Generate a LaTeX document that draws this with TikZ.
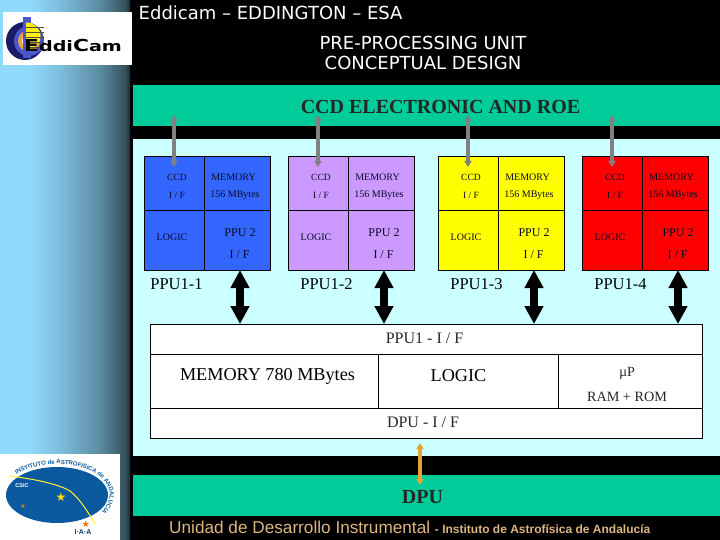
\documentclass[tikz,border=0pt]{standalone}
\usepackage{fontspec}
\setmainfont{Liberation Serif}
\newfontfamily\djv{DejaVu Sans}
\newfontfamily\arl{Liberation Sans}
\usetikzlibrary{arrows.meta,decorations.text}
\definecolor{sa}{HTML}{90D9FB}
\definecolor{sb}{HTML}{7DBEDC}
\definecolor{sc}{HTML}{5B8BA1}
\definecolor{sd}{HTML}{37525F}
\definecolor{se}{HTML}{1E2D35}
\definecolor{bandgreen}{HTML}{00CC99}
\definecolor{panelcyan}{HTML}{CCFFFF}
\definecolor{ppublue}{HTML}{3366FF}
\definecolor{ppupurple}{HTML}{CC99FF}
\definecolor{ppuyellow}{HTML}{FFFF00}
\definecolor{ppured}{HTML}{FF0000}
\definecolor{arrowgray}{HTML}{808080}
\definecolor{arroworange}{HTML}{E8A331}
\definecolor{foottan}{HTML}{DDB57F}
\definecolor{inktext}{HTML}{0A0A28}
\definecolor{iaablue}{HTML}{0B5AA0}
\definecolor{logonavy}{HTML}{1A1A66}
\definecolor{logoblue}{HTML}{4A55D0}
\definecolor{logoorange}{HTML}{F0A040}
\pgfdeclarehorizontalshading{sidegrad}{100bp}{color(0bp)=(sa);color(25bp)=(sa);color(36.5bp)=(sa);color(48bp)=(sb);color(63.5bp)=(sc);color(73bp)=(sd);color(75bp)=(se);color(100bp)=(se)}
\tikzset{
  tiny/.style={font=\fontsize{9.5}{11}\selectfont,inner sep=0pt,text=inktext},
  tinywide/.style={font=\fontsize{10}{11}\selectfont,inner sep=0pt,text=inktext},
  small/.style={font=\fontsize{12}{14}\selectfont,inner sep=0pt,text=inktext},
  ppulabel/.style={font=\fontsize{16.5}{18}\selectfont,inner sep=0pt,text=black},
  biglabel/.style={font=\fontsize{18.2}{20}\selectfont,inner sep=0pt,text=black},
  mainlabel/.style={font=\fontsize{16}{18}\selectfont,inner sep=0pt,text=black!85},
  whitetitle/.style={font=\djv\fontsize{18}{20}\selectfont,text=white,inner sep=0pt},
  bandtitle/.style={font=\fontsize{20}{22}\bfseries\selectfont,text=black!85,inner sep=0pt},
  grayarrow/.style={draw=arrowgray,line width=4pt,{Triangle[length=6pt,width=7pt]}-{Triangle[length=6pt,width=7pt]}},
  blackarrow/.style={draw=black,line width=8pt,{Triangle[length=18pt,width=18pt]}-{Triangle[length=18pt,width=18pt]}},
  orangearrow/.style={draw=arroworange,line width=4pt,{Triangle[length=6pt,width=7pt]}-{Triangle[length=6pt,width=7pt]}},
}
\newcommand{\ppucard}[3]{% id, left x, colour
  \fill[#3] (#2,156) rectangle ++(126,114);
  \draw[black,line width=0.6pt] (#2,156) rectangle ++(126,114);
  \draw[black,line width=0.5pt] (#2+60,156) -- (#2+60,270);
  \draw[black,line width=0.5pt] (#2,210) -- (#2+126,210);
  \node[tiny] (#1ccd) at (#2+33,177.5) {CCD};
  \node[tiny] (#1if) at (#2+33,195.5) {I / F};
  \node[tinywide] (#1mem) at (#2+89.5,177.5) {MEMORY};
  \node[tinywide] (#1size) at (#2+91,195.5) {156 MBytes};
  \node[tinywide] (#1logic) at (#2+28,237.5) {LOGIC};
  \node[small] (#1ppu) at (#2+96,232.5) {PPU 2};
  \node[small] (#1io) at (#2+95.5,254.5) {I / F};
  \coordinate (#1top) at (#2+30,167);
  \coordinate (#1bot) at (#2+96,270);
}
\begin{document}
\begin{tikzpicture}[x=1pt,y=-1pt]
\useasboundingbox (0,0) rectangle (720,540);
\fill[black] (0,0) rectangle (720,540);
\shade[shading=sidegrad] (0,0) rectangle (130,540);
% bands and panel
\fill[bandgreen] (133,85) rectangle (720,126);
\node[bandtitle] (roe) at (440.5,107) {CCD ELECTRONIC AND ROE};
\fill[panelcyan] (133,139) rectangle (720,456);
\fill[bandgreen] (133,475) rectangle (720,516);
\node[bandtitle] (dpu) at (422.5,497) {DPU};
% titles
\node[whitetitle,anchor=west] (t1) at (138.5,13) {Eddicam – EDDINGTON – ESA};
\node[whitetitle] (t2) at (423,43) {PRE-PROCESSING UNIT};
\node[whitetitle] (t3) at (423,63) {CONCEPTUAL DESIGN};
% PPU cards
\ppucard{a}{144}{ppublue}
\ppucard{b}{288}{ppupurple}
\ppucard{c}{438}{ppuyellow}
\ppucard{d}{582}{ppured}
\node[ppulabel] (la) at (176.5,284.5) {PPU1-1};
\node[ppulabel] (lb) at (326.5,284.5) {PPU1-2};
\node[ppulabel] (lc) at (476.5,284.5) {PPU1-3};
\node[ppulabel] (ld) at (620.5,284.5) {PPU1-4};
% main box
\fill[white] (150.5,324) rectangle (702.5,438);
\draw[black,line width=0.7pt] (150.5,324) rectangle (702.5,438);
\draw[black,line width=0.6pt] (150.5,354) -- (702.5,354) (150.5,408) -- (702.5,408) (378.5,354) -- (378.5,408) (558.5,354) -- (558.5,408);
\node[mainlabel] (ppuif) at (424.5,338) {PPU1 - I / F};
\node[biglabel] (mem780) at (267.5,376) {MEMORY 780 MBytes};
\node[biglabel] (logic) at (458.5,376) {LOGIC};
\node[font=\fontsize{14}{16}\selectfont,inner sep=0pt,text=black!85] (mup) at (627,373) {µP};
\node[font=\fontsize{14.2}{16}\selectfont,inner sep=0pt,text=black!85] (ram) at (627,397) {RAM + ROM};
\node[mainlabel] (dpuif) at (423,422) {DPU - I / F};
\coordinate (mboxa) at (240,324);
\coordinate (mboxb) at (384,324);
\coordinate (mboxc) at (534,324);
\coordinate (mboxd) at (678,324);
\coordinate (bandtopa) at (174,115);
\coordinate (bandtopb) at (318,115);
\coordinate (bandtopc) at (468,115);
\coordinate (bandtopd) at (612,115);
\coordinate (bandlow) at (420,485);
\coordinate (boxlow) at (420,443);
% arrows
\draw[grayarrow] (bandtopa) -- (atop);
\draw[grayarrow] (bandtopb) -- (btop);
\draw[grayarrow] (bandtopc) -- (ctop);
\draw[grayarrow] (bandtopd) -- (dtop);
\draw[blackarrow] (abot) -- (mboxa);
\draw[blackarrow] (bbot) -- (mboxb);
\draw[blackarrow] (cbot) -- (mboxc);
\draw[blackarrow] (dbot) -- (mboxd);
\draw[orangearrow] (boxlow) -- (bandlow);
% footer
\node[anchor=west,inner sep=0pt,text=foottan] (foot) at (169,527) {\arl\fontsize{17.2}{18}\selectfont Unidad de Desarrollo Instrumental \fontsize{12}{14}\bfseries - Instituto de Astrofísica de Andalucía};
% EddiCam logo
\fill[white] (3,12) rectangle (132,65);
\fill[logonavy] (25,41) circle (19);
\fill[logoblue] (29,41) circle (15);
\fill[logoorange] (29,41) circle (11);
\fill[white] (29,41) circle (7);
\fill[logoblue] (23,17) rectangle (31,58);
\begin{scope}
\clip (26,20) rectangle (44,52);
\fill[yellow] (27,36) circle (13.5);
\foreach \yy in {27,32,37,42,47} \draw[black!70,line width=0.4pt] (26,\yy) -- (44,\yy);
\end{scope}
\node[anchor=base west,inner sep=0pt,text=black,font=\djv\bfseries] (logotxt) at (24,51.5) {\scalebox{1.32}[1]{\fontsize{16.5}{20}\selectfont E\fontsize{14.5}{20}\selectfont ddi\fontsize{16.5}{20}\selectfont C\fontsize{14.5}{20}\selectfont am}};
% IAA logo
\fill[white] (0,454) rectangle (120,540);
\fill[iaablue] (57,495) ellipse (51 and 28);
\draw[yellow!80!white,line width=1pt] (9,476) .. controls (35,479) and (58,484) .. (70,491) .. controls (80,499) and (88,512) .. (95,524);
\node[font=\arl\bfseries\fontsize{5.5}{6}\selectfont,text=white,inner sep=0pt] (csic) at (22,486) {CSIC};
\node[font=\djv\fontsize{12}{12}\selectfont,text=yellow!80!orange,inner sep=0pt] (star1) at (61,497) {★};
\node[font=\djv\fontsize{6}{6}\selectfont,text=orange,inner sep=0pt] (star2) at (23,506) {★};
\node[font=\djv\fontsize{9}{9}\selectfont,text=orange!80!red,inner sep=0pt] (star3) at (86,524) {★};
\node[font=\arl\bfseries\fontsize{7}{7}\selectfont,text=iaablue!70!black,inner sep=0pt] (iaa) at (83,532) {I·A·A};
\path[decorate,decoration={text along path,text align=center,text={|\arl\bfseries\fontsize{6}{7}\selectfont\color{iaablue}|INSTITUTO de ASTROFISICA de ANDALUCIA}}] (15.1,475.9) arc (218:395:53 and 31);
\end{tikzpicture}
\end{document}
